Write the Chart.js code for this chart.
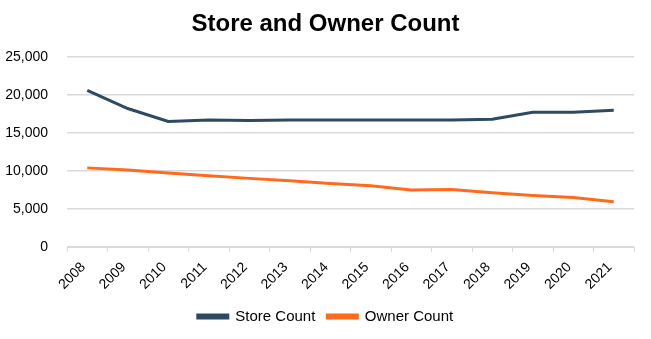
<!DOCTYPE html>
<html>
<head>
<meta charset="utf-8">
<script src="https://cdn.jsdelivr.net/npm/chart.js@4/dist/chart.umd.min.js"></script>
<style>
html,body{margin:0;padding:0;background:#fff;}
#wrap{width:651px;height:339px;}
</style>
</head>
<body>
<div id="wrap"><canvas id="c" width="651" height="339"></canvas></div>
<script>
const years = ["2008","2009","2010","2011","2012","2013","2014","2015","2016","2017","2018","2019","2020","2021"];
const storeCount = [20600,18200,16500,16680,16620,16680,16700,16700,16700,16700,16800,17720,17720,17960];
const ownerCount = [10400,10130,9730,9380,9020,8720,8360,8060,7480,7570,7130,6780,6510,5950];
const yTicks = [0,5000,10000,15000,20000,25000];

const FONT = "'Liberation Sans', Arial, sans-serif";
Chart.defaults.font.family = FONT;
Chart.defaults.color = '#000';

new Chart(document.getElementById('c'), {
  type: 'line',
  data: {
    labels: years,
    datasets: [
      {label:'Store Count', data: storeCount, borderColor:'#2E4A63', backgroundColor:'#2E4A63', borderWidth:3, pointRadius:0, tension:0},
      {label:'Owner Count', data: ownerCount, borderColor:'#FF6B1A', backgroundColor:'#FF6B1A', borderWidth:3, pointRadius:0, tension:0}
    ]
  },
  options: {
    responsive:false,
    animation:false,
    layout:{padding:{left:0,right:0,top:0,bottom:5}},
    plugins:{
      title:{display:true,text:'Store and Owner Count',font:{size:24,weight:'bold',family:FONT},color:'#000',padding:{top:10,bottom:18}},
      legend:{position:'bottom',labels:{boxWidth:30,boxHeight:3,font:{size:15,family:FONT},color:'#000',padding:12}},
      tooltip:{enabled:false}
    },
    scales:{
      x:{
        offset:true,
        grid:{display:true,drawOnChartArea:false,drawTicks:true,tickLength:5,offset:true,color:'#d9d9d9'},
        border:{display:true,color:'#d9d9d9'},
        ticks:{maxRotation:45,minRotation:45,font:{size:14,family:FONT},color:'#000',labelOffset:-4,padding:7,autoSkip:false},
        afterFit:(s)=>{s.height=50;}
      },
      y:{
        min:0,max:25000,
        afterBuildTicks:(s)=>{s.ticks=yTicks.map(v=>({value:v}));},
        grid:{color:'#d9d9d9',drawTicks:false,lineWidth:1.5},
        border:{display:false},
        ticks:{font:{size:14,family:FONT},color:'#000',padding:19,callback:(v)=>v.toLocaleString('en-US')},
        afterFit:(s)=>{s.width=67;}
      },
      yPad:{
        position:'right',
        display:true,
        min:0,max:1,
        grid:{display:false,drawTicks:false},
        border:{display:false},
        ticks:{display:false},
        afterFit:(s)=>{s.width=17;}
      }
    }
  }
});
</script>
</body>
</html>
